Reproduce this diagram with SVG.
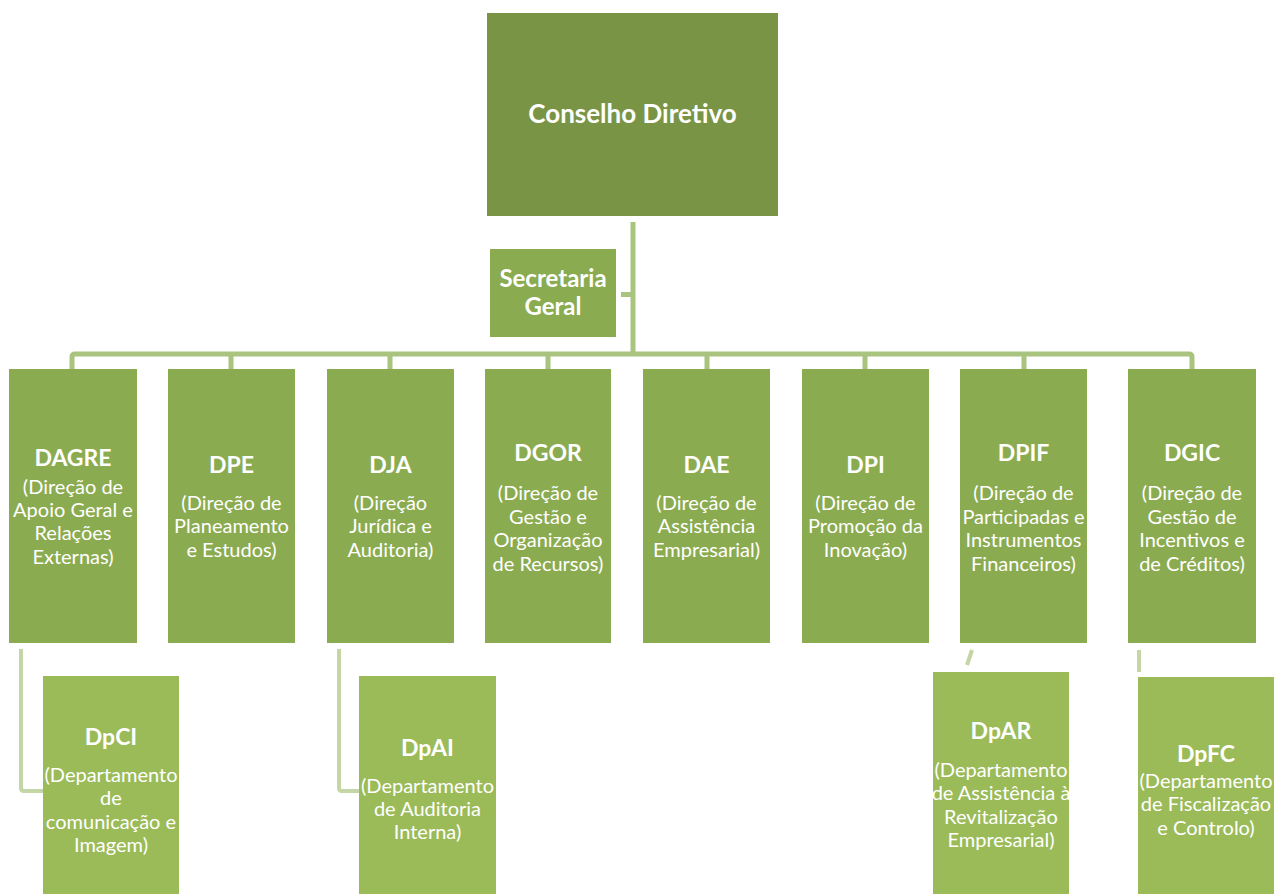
<svg xmlns="http://www.w3.org/2000/svg" width="1276" height="894" viewBox="0 0 1276 894">
<style>
.top{fill:#7a9445}
.dir{fill:#8bab50}
.sub{fill:#9bbb59}
.t{font-family:Lato,"Open Sans","Liberation Sans",sans-serif;fill:#ffffff;text-anchor:middle}
.b{font-weight:bold}
.h1{font-size:26px}
.h2{font-size:24px}
.h3{font-size:23px}
.s{font-size:20px}
.ln{fill:none;stroke:#a9c47f;stroke-width:5;stroke-linejoin:round;stroke-linecap:butt}
.ln2{fill:none;stroke:#c4d6a6;stroke-width:4;stroke-linejoin:round}
</style>
<rect width="1276" height="894" fill="#ffffff"/>
<g id="connectors">
<path class="ln" d="M633 222 V354"/>
<path class="ln" d="M621 294.5 H633"/>
<path class="ln" d="M72 369 V357 Q72 354 75 354 H1189 Q1192 354 1192 357 V369"/>
<path class="ln" d="M231 354 V369 M390 354 V369 M548 354 V369 M707 354 V369 M865 354 V369 M1024 354 V369"/>
<path class="ln2" d="M21 649 V788 Q21 791 24 791 H43"/>
<path class="ln2" d="M339 649 V788 Q339 791 342 791 H359"/>
<path class="ln2" d="M972 650 L967 665"/>
<path class="ln2" d="M1139 650 V672"/>
</g>
<g id="conselho">
<rect class="top" x="487" y="13" width="291" height="203"/>
<text class="t b h1" x="632.5" y="123">Conselho Diretivo</text>
</g>
<g id="secretaria">
<rect class="dir" x="490" y="249" width="126" height="88"/>
<text class="t b h2" x="553" y="287">Secretaria</text>
<text class="t b h2" x="553" y="315">Geral</text>
</g>
<g id="dagre">
<rect class="dir" x="9" y="369" width="128" height="274"/>
<text class="t b h3" x="73" y="466">DAGRE</text>
<text class="t s" x="73" y="494">(Direção de</text>
<text class="t s" x="73" y="517">Apoio Geral e</text>
<text class="t s" x="73" y="540">Relações</text>
<text class="t s" x="73" y="564">Externas)</text>
</g>
<g id="dpe">
<rect class="dir" x="168" y="369" width="127" height="274"/>
<text class="t b h3" x="231.5" y="473">DPE</text>
<text class="t s" x="231.5" y="510">(Direção de</text>
<text class="t s" x="231.5" y="533">Planeamento</text>
<text class="t s" x="231.5" y="557">e Estudos)</text>
</g>
<g id="dja">
<rect class="dir" x="327" y="369" width="127" height="274"/>
<text class="t b h3" x="390.5" y="473">DJA</text>
<text class="t s" x="390.5" y="510">(Direção</text>
<text class="t s" x="390.5" y="533">Jurídica e</text>
<text class="t s" x="390.5" y="557">Auditoria)</text>
</g>
<g id="dgor">
<rect class="dir" x="485" y="369" width="126" height="274"/>
<text class="t b h3" x="548" y="461">DGOR</text>
<text class="t s" x="548" y="500">(Direção de</text>
<text class="t s" x="548" y="524">Gestão e</text>
<text class="t s" x="548" y="547">Organização</text>
<text class="t s" x="548" y="571">de Recursos)</text>
</g>
<g id="dae">
<rect class="dir" x="643" y="369" width="127" height="274"/>
<text class="t b h3" x="706.5" y="473">DAE</text>
<text class="t s" x="706.5" y="510">(Direção de</text>
<text class="t s" x="706.5" y="533">Assistência</text>
<text class="t s" x="706.5" y="557">Empresarial)</text>
</g>
<g id="dpi">
<rect class="dir" x="802" y="369" width="127" height="274"/>
<text class="t b h3" x="865.5" y="473">DPI</text>
<text class="t s" x="865.5" y="510">(Direção de</text>
<text class="t s" x="865.5" y="533">Promoção da</text>
<text class="t s" x="865.5" y="557">Inovação)</text>
</g>
<g id="dpif">
<rect class="dir" x="960" y="369" width="127" height="274"/>
<text class="t b h3" x="1023.5" y="461">DPIF</text>
<text class="t s" x="1023.5" y="500">(Direção de</text>
<text class="t s" x="1023.5" y="524">Participadas e</text>
<text class="t s" x="1023.5" y="547">Instrumentos</text>
<text class="t s" x="1023.5" y="571">Financeiros)</text>
</g>
<g id="dgic">
<rect class="dir" x="1128" y="369" width="128" height="274"/>
<text class="t b h3" x="1192" y="461">DGIC</text>
<text class="t s" x="1192" y="500">(Direção de</text>
<text class="t s" x="1192" y="524">Gestão de</text>
<text class="t s" x="1192" y="547">Incentivos e</text>
<text class="t s" x="1192" y="571">de Créditos)</text>
</g>
<g id="dpci">
<rect class="sub" x="43" y="676" width="136" height="218"/>
<text class="t b h3" x="111" y="745">DpCI</text>
<text class="t s" x="111" y="782">(Departamento</text>
<text class="t s" x="111" y="805">de</text>
<text class="t s" x="111" y="829">comunicação e</text>
<text class="t s" x="111" y="852">Imagem)</text>
</g>
<g id="dpai">
<rect class="sub" x="359" y="676" width="137" height="218"/>
<text class="t b h3" x="427.5" y="756">DpAI</text>
<text class="t s" x="427.5" y="793">(Departamento</text>
<text class="t s" x="427.5" y="816">de Auditoria</text>
<text class="t s" x="427.5" y="839">Interna)</text>
</g>
<g id="dpar">
<rect class="sub" x="933" y="672" width="136" height="222"/>
<text class="t b h3" x="1001" y="739">DpAR</text>
<text class="t s" x="1001" y="777">(Departamento</text>
<text class="t s" x="1001" y="800">de Assistência à</text>
<text class="t s" x="1001" y="824">Revitalização</text>
<text class="t s" x="1001" y="847">Empresarial)</text>
</g>
<g id="dpfc">
<rect class="sub" x="1138" y="677" width="136" height="217"/>
<text class="t b h3" x="1206" y="762">DpFC</text>
<text class="t s" x="1206" y="788">(Departamento</text>
<text class="t s" x="1206" y="811">de Fiscalização</text>
<text class="t s" x="1206" y="835">e Controlo)</text>
</g>
</svg>
